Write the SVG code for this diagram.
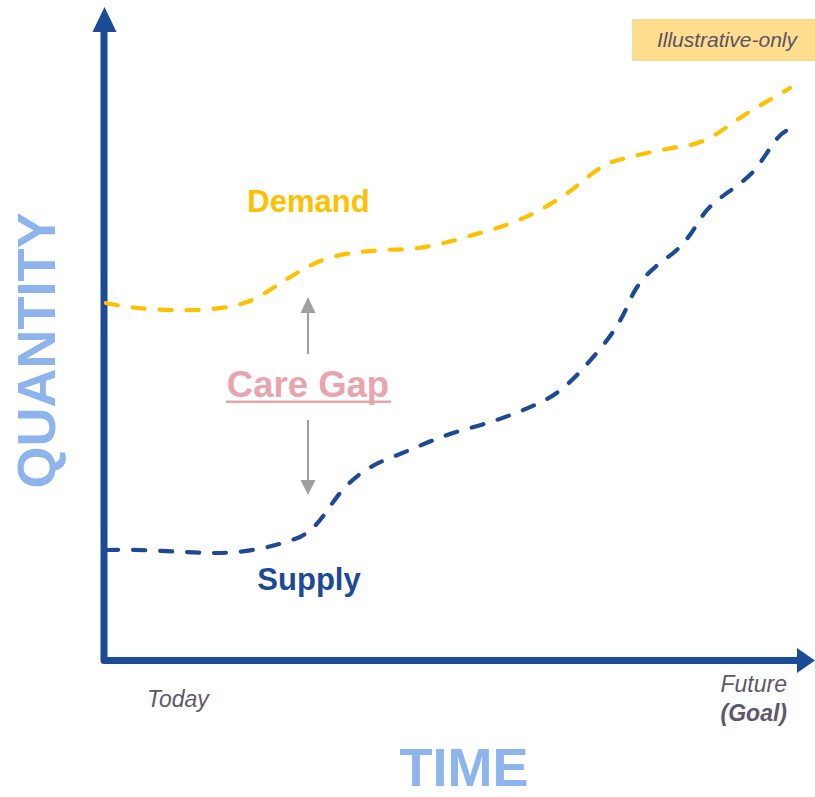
<svg xmlns="http://www.w3.org/2000/svg" width="815" height="797" viewBox="0 0 815 797">
  <style>
    .axis { fill: none; stroke: #1B4B95; stroke-width: 7; stroke-linejoin: round; }
    .axis-head { fill: #1B4B95; }
    .curve { fill: none; stroke-width: 4.2; stroke-linecap: round; stroke-dasharray: 12 15; }
    .demand { stroke: #FFC000; }
    .supply { stroke: #1C4A94; }
    .gap-line { stroke: #A0A0A0; stroke-width: 2.2; fill: none; }
    .gap-head { fill: #A0A0A0; }
    .big { font-family: "Liberation Sans", Arial, sans-serif; font-weight: bold; fill: #8DB4EC; font-size: 54px; }
    .lbl { font-family: "Liberation Sans", Arial, sans-serif; font-weight: bold; font-size: 31px; }
    .tick { font-family: "Liberation Sans", Arial, sans-serif; font-style: italic; fill: #5E586B; font-size: 23px; }
  </style>
  <rect width="815" height="797" fill="#ffffff"/>

  <g id="axes">
    <path class="axis" d="M104,30 L104,660.5 L799,660.5"/>
    <polygon class="axis-head" points="104.5,7 92.5,32 116.5,32"/>
    <polygon class="axis-head" points="815,660.5 797,648 797,673"/>
  </g>

  <g id="demand">
    <path class="curve demand" d="M106,303 C135,309 165,311 195,310 C225,309 245,305 262,295 C285,281 305,265 332,257 C360,250 385,250 410,249 C440,246 465,237 490,230 C520,222 545,208 565,195 C585,180 600,165 615,161 C640,154 665,149 690,145 C710,141 725,128 740,118 C755,108 770,100 790,88"/>
    <text class="lbl" x="308.5" y="212" text-anchor="middle" fill="#FFC000">Demand</text>
  </g>

  <g id="supply">
    <path class="curve supply" d="M106,550 C150,549 185,553 215,553 C245,553 275,547 300,537 C318,528 325,512 340,493 C355,476 368,466 395,456 C420,446 440,436 470,428 C500,420 525,410 545,400 C565,390 580,372 595,355 C612,335 622,320 630,300 C638,282 650,270 668,257 C685,245 692,232 703,215 C715,198 735,190 752,173 C768,155 775,135 788,130"/>
    <text class="lbl" x="309" y="590" text-anchor="middle" fill="#1C4A94">Supply</text>
  </g>

  <g id="care-gap">
    <text x="308" y="396.5" text-anchor="middle" font-family="Liberation Sans, Arial, sans-serif" font-weight="bold" font-size="36.5" fill="#E8A5AD">Care Gap</text>
    <rect x="226" y="400.5" width="165" height="2.5" fill="#E8A5AD"/>
  </g>

  <g id="connectors">
    <line class="gap-line" x1="308" y1="354" x2="308" y2="311"/>
    <polygon class="gap-head" points="308,297 300.5,313 315.5,313"/>
    <line class="gap-line" x1="308" y1="420" x2="308" y2="482"/>
    <polygon class="gap-head" points="308,495 300.5,480 315.5,480"/>
  </g>

  <g id="quantity-label">
    <text class="big" transform="translate(55,350.5) rotate(-90)" text-anchor="middle">QUANTITY</text>
  </g>
  <g id="time-label">
    <text class="big" x="464" y="786" text-anchor="middle" font-size="53">TIME</text>
  </g>

  <g id="today">
    <text class="tick" x="147" y="707">Today</text>
  </g>
  <g id="future">
    <text class="tick" x="787" y="692" text-anchor="end">Future</text>
    <text class="tick" x="787" y="721" text-anchor="end" font-weight="bold">(Goal)</text>
  </g>

  <g id="illustrative">
    <rect x="632" y="19" width="183" height="42" fill="#FFDD8E"/>
    <text x="797" y="47" text-anchor="end" font-family="Liberation Sans, Arial, sans-serif" font-style="italic" font-size="21" fill="#5A5468">Illustrative-only</text>
  </g>
</svg>
